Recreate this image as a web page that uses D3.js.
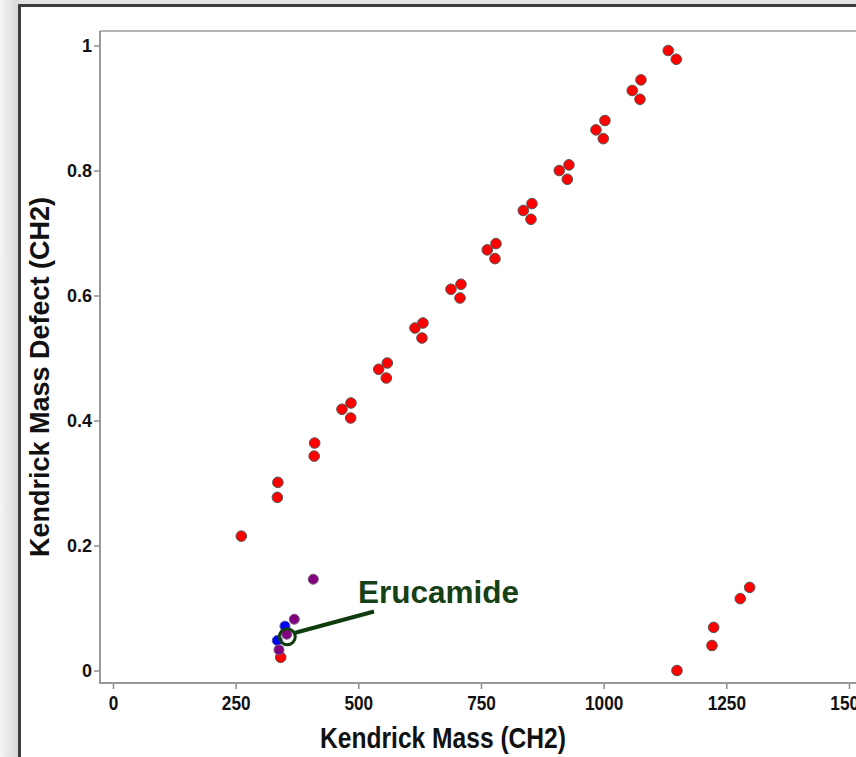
<!DOCTYPE html>
<html>
<head>
<meta charset="utf-8">
<script src="https://cdn.jsdelivr.net/npm/d3@7"></script>
<style>
  body { margin: 0; background: #e2e2e2; }
  svg { display: block; }
  .tick line { stroke: #8c8c8c; stroke-width: 1.5px; }
</style>
</head>
<body>
<div id="chart"></div>
<script>
// values: [kendrick mass, kendrick mass defect]
var redPoints = [
  [261.5, 0.215], [336, 0.301], [335, 0.277],
  [411, 0.364], [410, 0.343],
  [466.7, 0.418], [485, 0.428], [484.4, 0.404],
  [541.5, 0.482], [559, 0.492], [557, 0.468],
  [615.4, 0.548], [631.7, 0.556], [629.7, 0.532],
  [688.8, 0.610], [709.2, 0.618], [707.2, 0.596],
  [762.8, 0.673], [780.5, 0.683], [778.5, 0.659],
  [836.2, 0.736], [853.9, 0.747], [851.8, 0.722],
  [909.5, 0.800], [929.3, 0.809], [925.9, 0.786],
  [984.3, 0.865], [1002.6, 0.880], [999.2, 0.851],
  [1058.3, 0.928], [1076, 0.945], [1074, 0.914],
  [1131.6, 0.992], [1148, 0.978],
  [1149.4, 0.0], [1220.7, 0.040], [1224.2, 0.069], [1278.4, 0.115], [1297.6, 0.133],
  [341.8, 0.021]
];
var bluePoints = [[350.5, 0.071], [334.8, 0.048]];
var purplePoints = [[369.5, 0.082], [354, 0.058], [338.3, 0.033], [408.2, 0.146]];
var xTicks = [0, 250, 500, 750, 1000, 1250, 1500];
var yTicks = [0, 0.2, 0.4, 0.6, 0.8, 1];
var annotation = { label: "Erucamide", at: [355.2, 0.054] };

var svgWidth = 856, svgHeight = 757;
var plot = {left: 100, top: 31, bottom: 683};
var narrow = "scale(0.82,1)"; // the source uses a condensed bold face

var svg = d3.select("#chart").append("svg")
    .attr("width", svgWidth)
    .attr("height", svgHeight);

// grey window background + framed white panel
var defs = svg.append("defs");
var grad = defs.append("linearGradient").attr("id", "side").attr("x1", 0).attr("x2", 1);
grad.append("stop").attr("offset", "0%").attr("stop-color", "#f6f6f6");
grad.append("stop").attr("offset", "100%").attr("stop-color", "#d6d6d6");

svg.append("rect").attr("width", svgWidth).attr("height", svgHeight).attr("fill", "#e3e3e3");
svg.append("rect").attr("width", 19).attr("height", svgHeight).attr("fill", "url(#side)");
svg.append("rect")
    .attr("x", 19.5).attr("y", 5.5)
    .attr("width", svgWidth).attr("height", svgHeight)
    .attr("fill", "#fff")
    .attr("stroke", "#3d3d3d")
    .attr("stroke-width", 3);

var xScale = d3.scaleLinear().domain([0, 1500]).range([113, 849]);
var yScale = d3.scaleLinear().domain([0, 1]).range([670.5, 45.5]);

// plot frame lines
svg.append("line")
    .attr("x1", plot.left).attr("x2", svgWidth)
    .attr("y1", plot.top).attr("y2", plot.top)
    .attr("stroke", "#b4b4b4").attr("stroke-width", 2);

var xAxis = d3.axisBottom(xScale).tickValues(xTicks).tickSize(6).tickPadding(6).tickFormat(d3.format("d"));
var yAxis = d3.axisLeft(yScale).tickValues(yTicks).tickSize(6).tickPadding(2).tickFormat(function(d){ return d; });

var gx = svg.append("g")
    .attr("transform", "translate(0," + plot.bottom + ")")
    .call(xAxis);
gx.select(".domain").remove();
gx.selectAll("text")
    .attr("transform", narrow)
    .style("font-family", "'Liberation Sans', Arial, sans-serif")
    .style("font-weight", "bold")
    .style("font-size", "21px")
    .attr("fill", "#111");

var gy = svg.append("g")
    .attr("transform", "translate(" + plot.left + ",0)")
    .call(yAxis);
gy.select(".domain").remove();
gy.selectAll("text")
    .style("font-family", "'Liberation Sans', Arial, sans-serif")
    .style("font-weight", "bold")
    .style("font-size", "18px")
    .attr("fill", "#111");

svg.append("line")
    .attr("x1", plot.left).attr("x2", plot.left)
    .attr("y1", plot.top).attr("y2", plot.bottom)
    .attr("stroke", "#999").attr("stroke-width", 2);
svg.append("line")
    .attr("x1", plot.left - 1).attr("x2", svgWidth)
    .attr("y1", plot.bottom).attr("y2", plot.bottom)
    .attr("stroke", "#999").attr("stroke-width", 2);

// axis titles
svg.append("text")
    .attr("transform", "translate(443,748) " + narrow)
    .attr("text-anchor", "middle")
    .style("font-family", "'Liberation Sans', Arial, sans-serif")
    .style("font-weight", "bold")
    .style("font-size", "30px")
    .attr("fill", "#111")
    .text("Kendrick Mass (CH2)");

svg.append("text")
    .attr("transform", "translate(49,377) rotate(-90)")
    .attr("text-anchor", "middle")
    .style("font-family", "'Liberation Sans', Arial, sans-serif")
    .style("font-weight", "bold")
    .style("font-size", "27px")
    .attr("fill", "#111")
    .text("Kendrick Mass Defect (CH2)");

// points
function drawDots(data, fill, stroke, r) {
    svg.append("g").selectAll("circle")
        .data(data)
        .enter().append("circle")
        .attr("cx", function(d){ return xScale(d[0]); })
        .attr("cy", function(d){ return yScale(d[1]); })
        .attr("r", r)
        .attr("fill", fill)
        .attr("stroke", stroke)
        .attr("stroke-width", 1);
}
drawDots(redPoints, "#ff0000", "#555", 5.3);
drawDots(bluePoints, "#0000ff", "#5a5a9a", 5);
drawDots(purplePoints, "#800080", "#7a5a7a", 5);

// erucamide callout
var ax = xScale(annotation.at[0]), ay = yScale(annotation.at[1]);
svg.append("line")
    .attr("x1", ax + 8).attr("y1", ay - 4)
    .attr("x2", 374).attr("y2", 611.5)
    .attr("stroke", "#0f3d0f").attr("stroke-width", 4);
svg.append("circle")
    .attr("cx", ax).attr("cy", ay).attr("r", 8)
    .attr("fill", "none")
    .attr("stroke", "#0f3d0f").attr("stroke-width", 3);
svg.append("text")
    .attr("x", 358).attr("y", 603)
    .style("font-family", "'Liberation Sans', Arial, sans-serif")
    .style("font-weight", "bold")
    .style("font-size", "31.5px")
    .attr("fill", "#164016")
    .text(annotation.label);
</script>
</body>
</html>
